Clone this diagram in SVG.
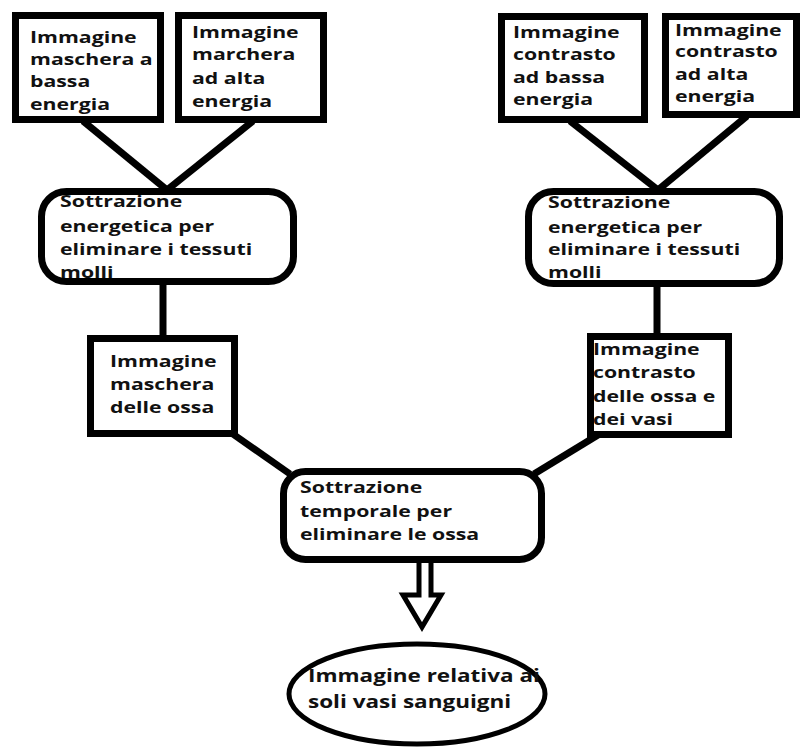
<svg xmlns="http://www.w3.org/2000/svg" width="801" height="749" viewBox="0 0 801 749">
<style>
.box{fill:#fff;stroke:#000;stroke-width:7}
.rbox{fill:#fff;stroke:#000;stroke-width:7}
.ln{stroke:#000;stroke-width:7;fill:none;stroke-linecap:butt}
.t{font-family:"Open Sans","DejaVu Sans",sans-serif;font-weight:bold;font-size:16px;fill:#111}
.tb{font-family:"Open Sans","DejaVu Sans",sans-serif;font-weight:bold;font-size:18px;fill:#111}
</style>
<rect x="0" y="0" width="801" height="749" fill="#fff"/>
<g id="connectors">
<line class="ln" x1="83" y1="121" x2="167" y2="190"/>
<line class="ln" x1="253" y1="121" x2="167" y2="190"/>
<line class="ln" x1="570" y1="121" x2="658" y2="190"/>
<line class="ln" x1="747" y1="116" x2="658" y2="190"/>
<line class="ln" x1="163" y1="283" x2="163" y2="337"/>
<line class="ln" x1="657" y1="285" x2="657" y2="335"/>
<line class="ln" x1="230" y1="432" x2="290" y2="474"/>
<line class="ln" x1="598" y1="435" x2="534" y2="474"/>
<path d="M419,562 V595 H403 L422,627 L441,595 H431 V562" fill="#fff" stroke="#000" stroke-width="5" stroke-linejoin="miter"/>
</g>
<g id="n1">
<rect class="box" x="15.5" y="15.5" width="145" height="104"/>
<text class="t" transform="translate(30 0) scale(1.33 1)"><tspan x="0" y="43">Immagine</tspan><tspan x="0" y="65">maschera a</tspan><tspan x="0" y="87">bassa</tspan><tspan x="0" y="110">energia</tspan></text>
</g>
<g id="n2">
<rect class="box" x="178.5" y="15.5" width="145" height="104"/>
<text class="t" transform="translate(192 0) scale(1.33 1)"><tspan x="0" y="38">Immagine</tspan><tspan x="0" y="60">marchera</tspan><tspan x="0" y="84">ad alta</tspan><tspan x="0" y="107">energia</tspan></text>
</g>
<g id="n3">
<rect class="box" x="501.5" y="16.5" width="143" height="103"/>
<text class="t" transform="translate(513 0) scale(1.33 1)"><tspan x="0" y="38">Immagine</tspan><tspan x="0" y="60">contrasto</tspan><tspan x="0" y="83">ad bassa</tspan><tspan x="0" y="105">energia</tspan></text>
</g>
<g id="n4">
<rect class="box" x="665.5" y="16.5" width="131" height="98"/>
<text class="t" transform="translate(675 0) scale(1.33 1)"><tspan x="0" y="36">Immagine</tspan><tspan x="0" y="57">contrasto</tspan><tspan x="0" y="80">ad alta</tspan><tspan x="0" y="102">energia</tspan></text>
</g>
<g id="n5">
<rect class="rbox" x="41.5" y="191.5" width="252" height="90" rx="25" ry="25"/>
<text class="t" transform="translate(60 0) scale(1.33 1)"><tspan x="0" y="207">Sottrazione</tspan><tspan x="0" y="232">energetica per</tspan><tspan x="0" y="255">eliminare i tessuti</tspan><tspan x="0" y="278">molli</tspan></text>
</g>
<g id="n6">
<rect class="rbox" x="528.5" y="191.5" width="251" height="92" rx="25" ry="25"/>
<text class="t" transform="translate(548 0) scale(1.33 1)"><tspan x="0" y="208">Sottrazione</tspan><tspan x="0" y="233">energetica per</tspan><tspan x="0" y="255">eliminare i tessuti</tspan><tspan x="0" y="278">molli</tspan></text>
</g>
<g id="n7">
<rect class="box" x="90.5" y="338.5" width="144" height="95"/>
<text class="t" transform="translate(110 0) scale(1.33 1)"><tspan x="0" y="367">Immagine</tspan><tspan x="0" y="390">maschera</tspan><tspan x="0" y="413">delle ossa</tspan></text>
</g>
<g id="n8">
<rect class="box" x="590.5" y="336.5" width="138" height="98"/>
<text class="t" transform="translate(593 0) scale(1.33 1)"><tspan x="0" y="355">Immagine</tspan><tspan x="0" y="378">contrasto</tspan><tspan x="0" y="402">delle ossa e</tspan><tspan x="0" y="425">dei vasi</tspan></text>
</g>
<g id="n9">
<rect class="rbox" x="283.5" y="471.5" width="258" height="88" rx="22" ry="22"/>
<text class="t" transform="translate(300 0) scale(1.33 1)"><tspan x="0" y="493">Sottrazione</tspan><tspan x="0" y="517">temporale per</tspan><tspan x="0" y="540">eliminare le ossa</tspan></text>
</g>
<g id="n10">
<ellipse cx="417" cy="694" rx="128" ry="50" fill="#fff" stroke="#000" stroke-width="5"/>
<text class="tb" transform="translate(308 0) scale(1.25 1)"><tspan x="0" y="682">Immagine relativa ai</tspan><tspan x="0" y="708">soli vasi sanguigni</tspan></text>
</g>
</svg>
